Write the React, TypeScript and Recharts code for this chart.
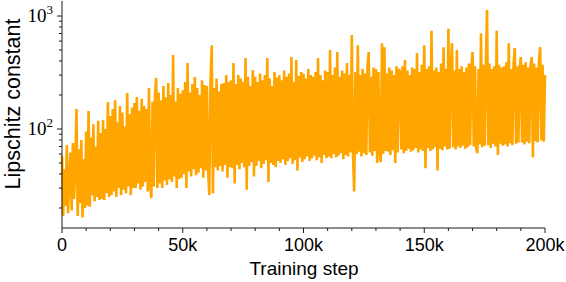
import React from 'react';
import { LineChart, Line, XAxis, YAxis, Label } from 'recharts';

// Training step spacing between logged points
const STEP_SIZE = 500;

// Lipschitz constant readings, 20 per 10k steps
const lipschitz: number[] = [
  58, 17, 44, 21, 72, 18, 36, 62, 19, 75, 24, 50, 150, 17, 66, 22, 80, 16.5, 54, 20,
  95, 21, 144, 20.5, 84, 26, 110, 23, 70, 25, 118, 23.5, 92, 24, 120, 23.5, 100, 27, 173, 25,
  130, 26, 150, 28, 180, 25, 115, 30, 160, 26, 140, 29, 105, 27, 208, 31, 135, 26, 155, 30,
  170, 30, 192, 33, 145, 29, 185, 31, 160, 34, 150, 28, 230, 32, 24.5, 175, 31, 200, 283, 30,
  210, 33, 180, 30, 240, 35, 190, 32, 255, 36, 200, 34, 452, 38, 175, 30, 230, 36, 205, 37,
  220, 40, 260, 30, 384, 42, 210, 38, 250, 44, 288, 39, 230, 41, 200, 45, 270, 37, 245, 43,
  240, 44, 26, 265, 552, 27, 230, 46, 280, 43, 215, 47, 250, 42, 255, 48, 300, 37, 260, 46,
  270, 45, 384, 33, 250, 48, 300, 44, 280, 50, 260, 46, 425, 29, 290, 47, 240, 51, 333, 38,
  290, 47, 260, 52, 310, 45, 270, 49, 300, 53, 425, 34, 280, 50, 240, 48, 320, 46, 285, 52,
  300, 50, 270, 54, 330, 48, 290, 52, 310, 55, 433, 49, 260, 53, 408, 43, 295, 56, 320, 51,
  310, 54, 280, 57, 340, 52, 300, 55, 290, 58, 320, 53, 425, 56, 300, 50, 270, 59, 330, 55,
  320, 57, 500, 55, 300, 60, 350, 56, 480, 58, 290, 61, 330, 54, 310, 59, 384, 57, 300, 62,
  680, 58, 28, 320, 60, 552, 63, 300, 57, 340, 61, 310, 59, 360, 480, 62, 290, 58, 350, 64,
  340, 50, 320, 62, 51, 575, 60, 530, 64, 310, 63, 350, 59, 330, 65, 300, 50, 360, 62, 340,
  320, 66, 360, 61, 408, 64, 330, 67, 300, 63, 350, 65, 340, 68, 470, 62, 320, 66, 370, 64,
  552, 45, 340, 68, 360, 64, 740, 66, 330, 69, 350, 43, 320, 67, 380, 65, 530, 70, 340, 66,
  770, 67, 350, 575, 69, 330, 66, 500, 70, 340, 68, 360, 71, 320, 67, 350, 69, 380, 72, 340,
  480, 70, 360, 68, 61, 340, 73, 705, 69, 370, 71, 350, 1130, 72, 380, 68, 340, 74, 360, 70,
  740, 59, 370, 74, 350, 71, 360, 73, 390, 70, 575, 75, 340, 72, 380, 520, 74, 360, 76, 350,
  433, 76, 370, 73, 390, 77, 350, 75, 360, 433, 56, 380, 78, 350, 76, 400, 530, 79, 370, 77,
  300,
];

const xTicks: number[] = [
  0, 10000, 20000, 30000, 40000, 50000, 60000, 70000, 80000, 90000, 100000,
  110000, 120000, 130000, 140000, 150000, 160000, 170000, 180000, 190000, 200000,
];
const xMajorLabels: Record<number, string> = {
  0: '0', 50000: '50k', 100000: '100k', 150000: '150k', 200000: '200k',
};
const yTicks: number[] = [
  20, 30, 40, 50, 60, 70, 80, 90, 100, 200, 300, 400, 500, 600, 700, 800, 900, 1000,
];
const yMajorLabels: Record<number, string> = { 100: '2', 1000: '3' };

const X_DOMAIN: [number, number] = [0, 200000];
const Y_DOMAIN: [number, number] = [13.3, 1358];

const data = lipschitz.map((v, i) => ({ step: i * STEP_SIZE, lip: v }));

const AXIS_COLOR = '#1a1a1a';
const SANS = '"Liberation Sans", Arial, sans-serif';
const SERIF = '"Liberation Serif", "DejaVu Serif", serif';

const XTick = (props: any) => {
  const { x, y, payload } = props;
  const label = xMajorLabels[payload.value];
  const major = label !== undefined;
  return (
    <g>
      <line x1={x} x2={x} y1={y} y2={y + (major ? 5 : 3)} stroke={AXIS_COLOR} strokeWidth={1} />
      {major && (
        <text x={x} y={y + 23} textAnchor="middle" fontFamily={SANS} fontSize={18} fill="#000">
          {label}
        </text>
      )}
    </g>
  );
};

const YTick = (props: any) => {
  const { x, y, payload } = props;
  const exp = yMajorLabels[payload.value];
  const major = exp !== undefined;
  return (
    <g>
      <line x1={x} x2={x - (major ? 5 : 3)} y1={y} y2={y} stroke={AXIS_COLOR} strokeWidth={1} />
      {major && (
        <text x={x - 9} y={y + 6} textAnchor="end" fontFamily={SERIF} fontSize={19} fill="#000">
          10
          <tspan dy={-8} fontSize={13}>{exp}</tspan>
        </text>
      )}
    </g>
  );
};

export default function App() {
  return (
    <div style={{ position: 'absolute', left: 0, top: 0, width: 566, height: 282, background: '#fff' }}>
      <LineChart
        width={566}
        height={282}
        data={data}
        margin={{ top: 1, right: 21, bottom: 24, left: 0 }}
      >
        <XAxis
          dataKey="step"
          type="number"
          domain={X_DOMAIN}
          ticks={xTicks}
          interval={0}
          height={30}
          tickSize={0}
          tickMargin={0}
          tickLine={false}
          tick={<XTick />}
          axisLine={{ stroke: AXIS_COLOR, strokeWidth: 1 }}
        >
          <Label
            content={() => (
              <text x={304} y={275} textAnchor="middle" fontFamily={SANS} fontSize={19} fill="#000">
                Training step
              </text>
            )}
          />
        </XAxis>
        <XAxis
          xAxisId="top"
          orientation="top"
          dataKey="step"
          type="number"
          domain={X_DOMAIN}
          height={0}
          tick={false}
          tickLine={false}
          axisLine={{ stroke: AXIS_COLOR, strokeWidth: 1 }}
        />
        <YAxis
          scale="log"
          type="number"
          domain={Y_DOMAIN}
          allowDataOverflow
          ticks={yTicks}
          interval={0}
          width={62}
          tickSize={0}
          tickMargin={0}
          tickLine={false}
          tick={<YTick />}
          axisLine={{ stroke: AXIS_COLOR, strokeWidth: 1 }}
        >
          <Label
            content={() => (
              <text
                x={20}
                y={104}
                transform="rotate(-90 20 104)"
                textAnchor="middle"
                fontFamily={SANS}
                fontSize={21.5}
                fill="#000"
              >
                Lipschitz constant
              </text>
            )}
          />
        </YAxis>
        <YAxis
          yAxisId="right"
          orientation="right"
          width={0}
          tick={false}
          tickLine={false}
          axisLine={{ stroke: AXIS_COLOR, strokeWidth: 1 }}
        />
        <Line
          dataKey="lip"
          stroke="#FFA500"
          strokeWidth={2.6}
          dot={false}
          activeDot={false}
          isAnimationActive={false}
        />
      </LineChart>
    </div>
  );
}
